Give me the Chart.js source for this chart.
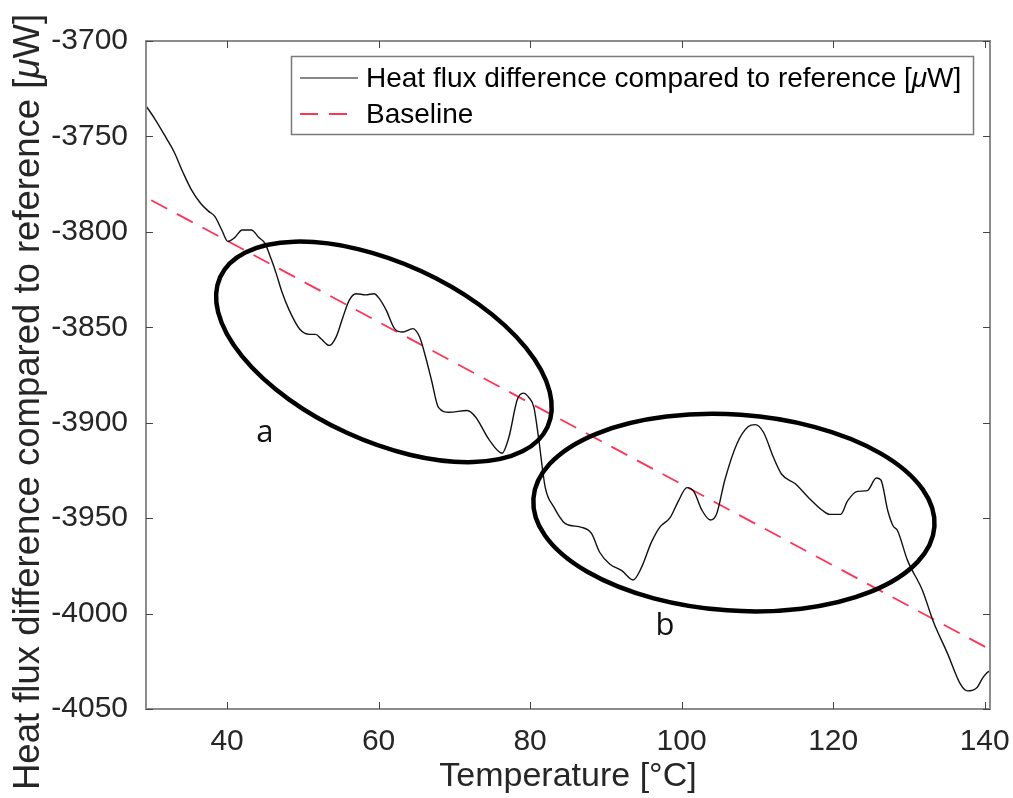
<!DOCTYPE html>
<html>
<head>
<meta charset="utf-8">
<script src="https://cdn.jsdelivr.net/npm/chart.js@4/dist/chart.umd.min.js"></script>
<style>
html,body{margin:0;padding:0;background:#fff;}
canvas{display:block;}
</style>
</head>
<body>
<canvas id="c" width="1013" height="798"></canvas>
<script>
// ---------- data ----------
const temperature = [29.3, 30.5, 32.0, 33.0, 34.2, 35.3, 36.5, 37.5, 38.4, 39.3, 40.1, 41.0, 42.0, 43.2, 44.2, 45.0, 45.8, 46.5, 47.2, 48.2, 49.6, 50.9, 51.7, 52.4, 53.5, 54.4, 55.3, 56.1, 57.0, 58.3, 59.4, 60.1, 61.0, 62.1, 63.2, 64.5, 65.4, 66.3, 67.0, 67.9, 69.3, 71.7, 72.8, 74.6, 76.3, 77.2, 78.3, 79.1, 79.8, 80.5, 81.1, 82.0, 83.1, 84.6, 86.8, 88.1, 89.2, 90.5, 92.1, 93.6, 94.7, 96.0, 97.1, 98.5, 99.6, 100.7, 101.6, 102.7, 103.8, 104.6, 105.7, 107.3, 108.8, 109.7, 110.8, 112.1, 113.2, 115.0, 116.7, 118.6, 119.5, 121.0, 121.9, 123.2, 124.5, 125.7, 126.3, 127.2, 127.9, 128.5, 129.8, 131.8, 133.2, 135.1, 136.8, 137.7, 139.0, 139.7, 140.3, 140.7];
const heatFlux = [-3734, -3741, -3751, -3758, -3769, -3778, -3785, -3789, -3792, -3799, -3805, -3803, -3799, -3799, -3803, -3806, -3814, -3822, -3831, -3841, -3851, -3853.7, -3853.7, -3856, -3859.5, -3855, -3844.6, -3836, -3832.4, -3833, -3832.4, -3835, -3841, -3850.7, -3852.5, -3850.7, -3855, -3867, -3878, -3892, -3894.5, -3893.6, -3897, -3909, -3916, -3907.6, -3888, -3884.5, -3886.6, -3892, -3907.6, -3934, -3944, -3952.7, -3954.8, -3958, -3968, -3974, -3977.5, -3982.4, -3975.8, -3962.7, -3954.8, -3949.6, -3940.8, -3934, -3936, -3946, -3951, -3948, -3930, -3911, -3902, -3901, -3905, -3918, -3927, -3932, -3939, -3946, -3948, -3948, -3941, -3936, -3935.6, -3929, -3930, -3946, -3954, -3956.6, -3972, -3988, -4004, -4021, -4037, -4040.5, -4038.7, -4034, -4031, -4030];
const baselineTemp = [30.0, 140.7];
const baselineFlux = [-3783.4, -4018.8];
const xTicks = [40, 60, 80, 100, 120, 140];
const yTicks = [-4050, -4000, -3950, -3900, -3850, -3800, -3750, -3700];
const seriesNames = ['Heat flux difference compared to reference [\u03bcW]', 'Baseline'];
const xTitle = 'Temperature [\u00b0C]';
const yTitleParts = ['Heat flux difference compared to reference [', '\u03bc', 'W]'];
const regionLabels = ['a', 'b'];
const regionCenterTemp = [60.7, 106.9];
const regionCenterFlux = [-3862.9, -3947.1];
const regionLabelTemp = [45.0, 97.8];
const regionLabelFlux = [-3905.7, -4006.4];

// ---------- styles ----------
const FONT = '"Liberation Sans", Arial, Helvetica, sans-serif';
const ellipseStyle = [
  {rx: 180, ry: 89, angleDeg: 24.6},
  {rx: 201, ry: 98, angleDeg: 4.0}
];

// draws text made of parts where the unit symbol is italic
function drawMixed(ctx, parts, size, x, y, align) {
  const fonts = parts.map(p => (p === '\u03bc' ? 'italic ' : '') + size + 'px ' + FONT);
  const widths = parts.map((p, i) => { ctx.font = fonts[i]; return ctx.measureText(p).width; });
  const total = widths.reduce((a, b) => a + b, 0);
  let cx = align === 'center' ? x - total / 2 : x;
  ctx.textAlign = 'left';
  parts.forEach((p, i) => { ctx.font = fonts[i]; ctx.fillText(p, cx, y); cx += widths[i]; });
}

const framePlugin = {
  id: 'frame',
  afterDatasetsDraw(chart) {
    const {ctx, chartArea: a, scales} = chart;
    ctx.save();
    // ellipses
    ctx.strokeStyle = '#000';
    ctx.lineWidth = 4.5;
    for (let i = 0; i < regionLabels.length; i++) {
      const cx = scales.x.getPixelForValue(regionCenterTemp[i]);
      const cy = scales.y.getPixelForValue(regionCenterFlux[i]);
      const st = ellipseStyle[i];
      ctx.beginPath();
      ctx.ellipse(cx, cy, st.rx, st.ry, st.angleDeg * Math.PI / 180, 0, Math.PI * 2);
      ctx.stroke();
    }
    // region labels
    ctx.fillStyle = '#111';
    ctx.font = '31px "Open Sans", "Noto Sans", sans-serif';
    ctx.textAlign = 'center';
    ctx.textBaseline = 'middle';
    for (let i = 0; i < regionLabels.length; i++) {
      ctx.fillText(regionLabels[i], scales.x.getPixelForValue(regionLabelTemp[i]), scales.y.getPixelForValue(regionLabelFlux[i]));
    }
    // axes box
    ctx.strokeStyle = '#8c8c8c';
    ctx.lineWidth = 2;
    ctx.strokeRect(a.left, a.top, a.right - a.left, a.bottom - a.top);
    // inward ticks
    ctx.strokeStyle = '#444';
    ctx.lineWidth = 1;
    const tl = 7;
    ctx.beginPath();
    scales.x.ticks.forEach(t => {
      const px = Math.round(scales.x.getPixelForValue(t.value)) + 0.5;
      ctx.moveTo(px, a.bottom); ctx.lineTo(px, a.bottom - tl);
      ctx.moveTo(px, a.top); ctx.lineTo(px, a.top + tl);
    });
    scales.y.ticks.forEach(t => {
      const py = Math.round(scales.y.getPixelForValue(t.value)) + 0.5;
      ctx.moveTo(a.left, py); ctx.lineTo(a.left + tl, py);
      ctx.moveTo(a.right, py); ctx.lineTo(a.right - tl, py);
    });
    ctx.stroke();
    ctx.restore();
  },
  afterDraw(chart) {
    const {ctx} = chart;
    const ds = chart.data.datasets;
    ctx.save();
    // y axis title (rotated, italic mu)
    ctx.save();
    ctx.translate(29, 402);
    ctx.rotate(-Math.PI / 2);
    ctx.fillStyle = '#262626';
    ctx.textBaseline = 'middle';
    drawMixed(ctx, yTitleParts, 36.5, 0, 0, 'center');
    ctx.restore();
    // legend
    const bx = 291.5, by = 56.5, bw = 682, bh = 78;
    ctx.fillStyle = '#fff';
    ctx.fillRect(bx, by, bw, bh);
    ctx.strokeStyle = '#7a7a7a';
    ctx.lineWidth = 1.5;
    ctx.strokeRect(bx, by, bw, bh);
    const rows = [78, 114];
    ctx.textBaseline = 'middle';
    ds.forEach((d, i) => {
      ctx.strokeStyle = d.borderColor;
      ctx.lineWidth = i === 0 ? 1.2 : 1.8;
      ctx.setLineDash(d.borderDash || []);
      ctx.beginPath();
      ctx.moveTo(300, rows[i]);
      ctx.lineTo(358, rows[i]);
      ctx.stroke();
      ctx.setLineDash([]);
      ctx.fillStyle = '#000';
      const parts = d.label.split(/(\u03bc)/);
      drawMixed(ctx, parts, 28, 366, rows[i] + 1, 'left');
    });
    ctx.restore();
  }
};

new Chart(document.getElementById('c'), {
  type: 'line',
  data: {
    datasets: [
      {
        label: seriesNames[0],
        data: temperature.map((t, i) => ({x: t, y: heatFlux[i]})),
        borderColor: '#111',
        borderWidth: 1.4,
        pointRadius: 0,
        cubicInterpolationMode: 'monotone',
        fill: false
      },
      {
        label: seriesNames[1],
        data: baselineTemp.map((t, i) => ({x: t, y: baselineFlux[i]})),
        borderColor: '#ff3355',
        borderWidth: 1.8,
        borderDash: [18, 11],
        pointRadius: 0,
        fill: false
      }
    ]
  },
  options: {
    responsive: false,
    animation: false,
    layout: {padding: {top: 41, right: 23, bottom: 0, left: 0}},
    plugins: {legend: {display: false}, tooltip: {enabled: false}},
    scales: {
      x: {
        type: 'linear', min: 29.3, max: 140.7,
        afterBuildTicks: ax => { ax.ticks = xTicks.map(v => ({value: v})); },
        afterFit: s => { s.height = 89; s.paddingLeft = 0; s.paddingRight = 0; },
        ticks: {font: {family: FONT, size: 30}, color: '#262626', padding: 15, maxRotation: 0, autoSkip: false, callback: v => String(v)},
        grid: {display: false, drawTicks: false},
        border: {display: false},
        title: {display: true, text: xTitle, font: {family: FONT, size: 34}, color: '#262626', padding: {top: 0, bottom: 1}}
      },
      y: {
        type: 'linear', min: -4050, max: -3700,
        afterBuildTicks: ax => { ax.ticks = yTicks.map(v => ({value: v})); },
        afterFit: s => { s.width = 146; s.paddingTop = 0; s.paddingBottom = 0; },
        ticks: {font: {family: FONT, size: 30}, color: '#262626', padding: 18, autoSkip: false, callback: v => String(v)},
        grid: {display: false, drawTicks: false},
        border: {display: false},
        title: {display: false}
      }
    }
  },
  plugins: [framePlugin]
});
</script>
</body>
</html>
